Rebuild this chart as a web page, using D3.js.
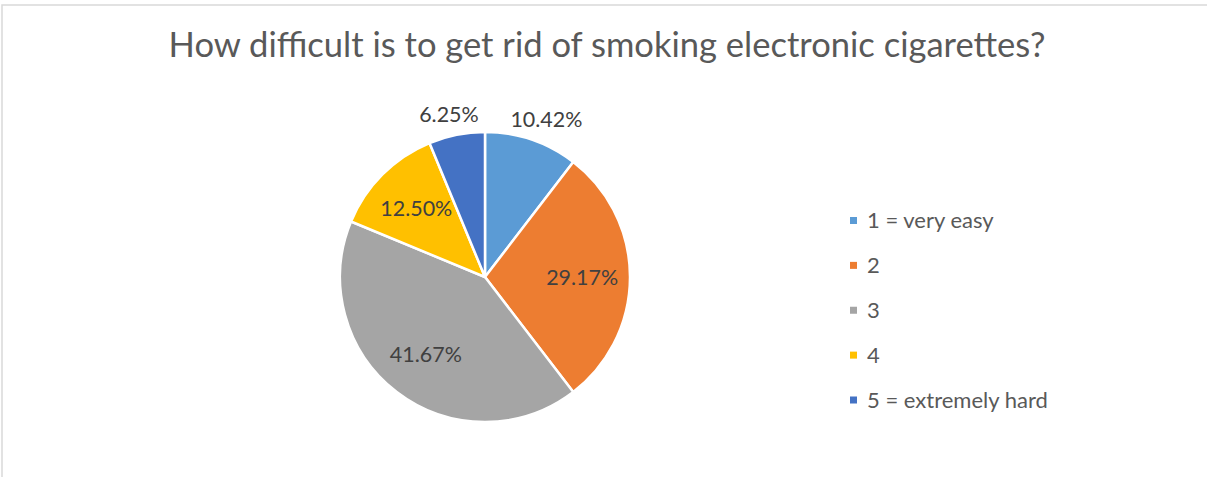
<!DOCTYPE html>
<html>
<head>
<meta charset="utf-8">
<script src="https://cdn.jsdelivr.net/npm/d3@7"></script>
<style>
  html, body { margin: 0; padding: 0; background: #fff; }
  svg { display: block; }
  text { font-family: Lato, "Open Sans", "Noto Sans", sans-serif; }
</style>
</head>
<body>
<svg id="chart" width="1207" height="477"></svg>
<script>
// ---- data ----
const title = "How difficult is to get rid of smoking electronic cigarettes?";
const categories = ["1 = very easy", "2", "3", "4", "5 = extremely hard"];
const values = [10.42, 29.17, 41.67, 12.50, 6.25];
const valueLabels = ["10.42%", "29.17%", "41.67%", "12.50%", "6.25%"];
const colors = ["#5B9BD5", "#ED7D31", "#A5A5A5", "#FFC000", "#4472C4"];

// ---- layout ----
const W = 1207, H = 477;
const cx = 485, cy = 277, R = 145;
const svg = d3.select("#chart");

// measure helper to fit font size to a target width
function fitSize(str, targetWidth, base) {
  const t = svg.append("text").attr("font-size", base).text(str);
  const w = t.node().getComputedTextLength();
  t.remove();
  return base * targetWidth / w;
}

// frame
svg.append("rect")
  .attr("x", 2).attr("y", 5)
  .attr("width", W + 10).attr("height", H + 10)
  .attr("fill", "#fff")
  .attr("stroke", "#d9d9d9").attr("stroke-width", 1.5);

// title
const titleSize = fitSize(title, 877, 28);
svg.append("text")
  .attr("x", 607).attr("y", 57)
  .attr("text-anchor", "middle")
  .attr("font-size", titleSize)
  .attr("fill", "#595959")
  .text(title);

// pie
const pie = d3.pie().sort(null).value(d => d)(values);
const arc = d3.arc().innerRadius(0).outerRadius(R);
const g = svg.append("g").attr("transform", `translate(${cx},${cy})`);

g.selectAll("path.slice")
  .data(pie)
  .join("path")
  .attr("class", "slice")
  .attr("d", arc)
  .attr("fill", (d, i) => colors[i])
  .attr("stroke", "#fff")
  .attr("stroke-width", 2.5)
  .attr("stroke-linejoin", "round");

// data labels
const labelSize = fitSize("10.42%", 72, 18);
const labelH = labelSize * 0.75;
const total = d3.sum(values);
g.selectAll("text.lbl")
  .data(pie)
  .join("text")
  .attr("class", "lbl")
  .attr("font-size", labelSize)
  .attr("fill", "#404040")
  .attr("text-anchor", "middle")
  .attr("dy", "0.36em")
  .text((d, i) => valueLabels[i])
  .each(function (d) {
    const a = (d.startAngle + d.endAngle) / 2;
    const ux = Math.sin(a), uy = -Math.cos(a);
    let x, y;
    if (d.value / total < 0.11) {
      const w = this.getComputedTextLength();
      const pr = R + 10;
      x = ux * pr + ux * w / 2;
      y = uy * pr + uy * labelH / 2 * 1.4;
    } else {
      const pr = R * 0.67;
      x = ux * pr; y = uy * pr;
    }
    d3.select(this).attr("x", x).attr("y", y);
  });

// legend
const legendSize = fitSize("5 = extremely hard", 181, 18);
const ly = d3.scalePoint().domain(categories).range([220.5, 400]);
const leg = svg.append("g");
const items = leg.selectAll("g").data(categories).join("g")
  .attr("transform", d => `translate(850,${ly(d)})`);
items.append("rect")
  .attr("x", 0).attr("y", -3.5)
  .attr("width", 7).attr("height", 7)
  .attr("fill", (d, i) => colors[i]);
items.append("text")
  .attr("x", 17).attr("y", 0)
  .attr("dy", "0.36em")
  .attr("font-size", legendSize)
  .attr("fill", "#595959")
  .text(d => d);
</script>
</body>
</html>
